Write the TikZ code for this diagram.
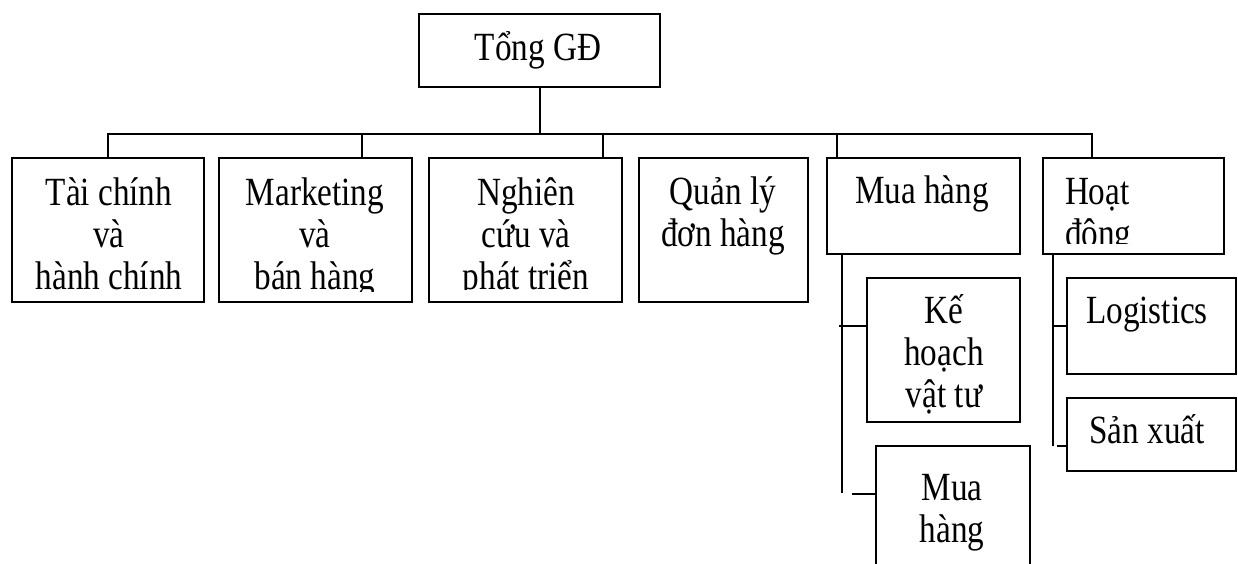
\documentclass[tikz,border=0pt]{standalone}
\usepackage{fontspec}
\setmainfont{Liberation Serif}[FakeStretch=0.83]
% stacked lines, first baseline is the box baseline
\newcommand\txtc[1]{\vtop{\halign{\hfil##\hfil\cr#1\crcr}}}
\newcommand\txtl[1]{\vtop{\halign{##\hfil\cr#1\crcr}}}

\begin{document}
\begin{tikzpicture}[x=1pt,y=-1pt,
  box/.style={draw, line width=1.6pt, inner sep=0pt, outer sep=0pt},
  lbl/.style={inner sep=0pt, outer sep=0pt, font=\fontsize{40}{42}\selectfont},
  link/.style={line width=1.6pt}]
\useasboundingbox (0,0) rectangle (1238,563);
\clip (0,0) rectangle (1238,563);

% boxes
\node[box, minimum width=241pt, minimum height=73pt]  (top) at (539.5,50.5) {};
\node[box, minimum width=192pt, minimum height=144pt] (b1) at (108,230) {};
\node[box, minimum width=193pt, minimum height=144pt] (b2) at (315.5,230) {};
\node[box, minimum width=193pt, minimum height=144pt] (b3) at (525.5,230) {};
\node[box, minimum width=169pt, minimum height=144pt] (b4) at (723.5,230) {};
\node[box, minimum width=193pt, minimum height=96pt]  (b5) at (923.5,206) {};
\node[box, minimum width=181pt, minimum height=96pt]  (b6) at (1133.5,206) {};
\node[box, minimum width=153pt, minimum height=144pt] (kh) at (943.5,350) {};
\node[box, minimum width=154pt, minimum height=174pt] (mh) at (953,533) {};
\node[box, minimum width=169pt, minimum height=96pt]  (lg) at (1151.5,326) {};
\node[box, minimum width=169pt, minimum height=73pt]  (sx) at (1151.5,434.5) {};

% texts
\node[lbl, anchor=base] (ttop) at (538,60) {Tổng GĐ};
\node[lbl, anchor=base] (t1) at (109,205) {\txtc{Tài chính\cr và\cr hành chính}};
\begin{scope}
  \clip (220,159) rectangle (411,291);
  \node[lbl, anchor=base] (t2) at (315,205) {\txtc{Marketing\cr và\cr bán hàng}};
\end{scope}
\begin{scope}
  \clip (430,159) rectangle (621,289);
  \node[lbl, anchor=base] (t3) at (526,205) {\txtc{Nghiên\cr cứu và\cr phát triển}};
\end{scope}
\node[lbl, anchor=base] (t4) at (723,204) {\txtc{Quản lý\cr đơn hàng}};
\node[lbl, anchor=base] (t5) at (922,203) {Mua hàng};
\begin{scope}
  \clip (1044,159) rectangle (1223,243);
  \node[lbl, anchor=base west] (t6) at (1065,204) {\txtl{Hoạt\cr động}};
\end{scope}
\node[lbl, anchor=base] (tkh) at (944,323) {\txtc{Kế\cr hoạch\cr vật tư}};
\node[lbl, anchor=base] (tmh) at (952,500) {\txtc{Mua\cr hàng}};
\node[lbl, anchor=base] (tlg) at (1147,323) {Logistics};
\node[lbl, anchor=base] (tsx) at (1147,443) {Sản xuất};

% connectors
\coordinate (bus) at (540,134);
\coordinate (d1) at (108,134);
\coordinate (d2) at (362,134);
\coordinate (d3) at (603,134);
\coordinate (d5) at (837,134);
\coordinate (d6) at (1092,134);
\draw[link] (top.south -| bus) -- (bus);
\draw[link] (d1 |- b1.north) -- (d1) -- (d6) -- (d6 |- b6.north);
\draw[link] (d2) -- (d2 |- b2.north);
\draw[link] (d3) -- (d3 |- b3.north);
\draw[link] (d5) -- (d5 |- b5.north);

\coordinate (mvt) at (842,254);
\coordinate (mvb) at (842,493);
\coordinate (s1) at (839,326);
\coordinate (s2) at (852,494);
\draw[link] (mvt) -- (mvb);
\draw[link] (s1) -- (s1 -| kh.west);
\draw[link] (s2) -- (s2 -| mh.west);

\coordinate (hvt) at (1053,254);
\coordinate (hvb) at (1053,446);
\coordinate (s3) at (1053,326);
\coordinate (s4) at (1057,446);
\draw[link] (hvt) -- (hvb);
\draw[link] (s3) -- (s3 -| lg.west);
\draw[link] (s4) -- (s4 -| sx.west);
\end{tikzpicture}
\end{document}
